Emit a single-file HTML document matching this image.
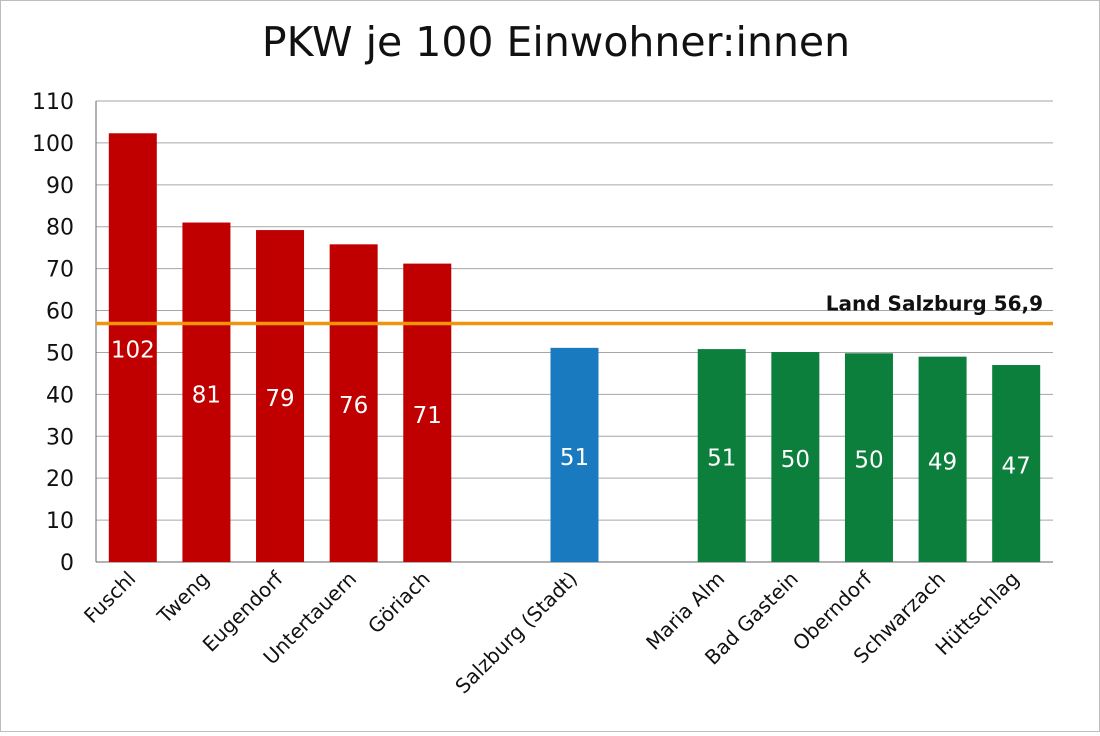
<!DOCTYPE html>
<html><head><meta charset="utf-8"><style>
body{margin:0;background:#fff;}
#wrap{position:relative;width:1098px;height:730px;border:1px solid #bdbdbd;background:#fff;}
text{font-family:"DejaVu Sans","Liberation Sans",sans-serif;}
</style></head><body>
<div id="wrap">
<svg id="chart" width="1098" height="730">
<text x="555" y="55" text-anchor="middle" font-size="41" fill="#111">PKW je 100 Einwohner:innen</text>
</svg>
</div>
<script>
const categories=["Fuschl","Tweng","Eugendorf","Untertauern","Göriach","","Salzburg (Stadt)","","Maria Alm","Bad Gastein","Oberndorf","Schwarzach","Hüttschlag"];
const values=[102.3,81,79.2,75.8,71.2,null,51.1,null,50.8,50.1,49.8,49,47];
const labels=["102","81","79","76","71","","51","","51","50","50","49","47"];
const groups=["r","r","r","r","r","","b","","g","g","g","g","g"];
const yTicks=[0,10,20,30,40,50,60,70,80,90,100,110];
const avgValue=56.9;
const avgLabel="Land Salzburg 56,9";
const colors={r:"#c00000",b:"#1a7abf",g:"#0b7f3b"};
const svg=document.getElementById('chart');
const NS="http://www.w3.org/2000/svg";
const X0=95,X1=1052,Y0=561,Y1=100,YMAX=110;
const step=(X1-X0)/categories.length;
const y=v=>Y0-(v/YMAX)*(Y0-Y1);
const xc=i=>X0+step*(i+0.5);
function mk(t,a,p){const e=document.createElementNS(NS,t);for(const k in a)e.setAttribute(k,a[k]);(p||svg).appendChild(e);return e;}
yTicks.forEach(t=>{
 const l=mk('line',{x1:X0,x2:X1,y1:y(t),y2:y(t),stroke:t===0?'#666':'#a6a6a6','stroke-width':1});
 
 
 const tx=mk('text',{x:X0-22,y:y(t)+8,'text-anchor':'end','font-size':22,fill:'#111'});
 tx.textContent=t;
 
 
});
const ax=mk('line',{x1:X0,x2:X0,y1:Y1,y2:Y0,stroke:'#666'});


values.forEach((v,i)=>{
 if(v==null)return;
 const bw=48;
 const r=mk('rect',{x:xc(i)-bw/2,y:y(v),width:bw,height:Y0-y(v),fill:colors[groups[i]]});
 
 
 const t=mk('text',{x:xc(i),y:(y(v)+Y0)/2+10,'text-anchor':'middle','font-size':23,fill:'#fff'});
 t.textContent=labels[i];
 
 
});
categories.forEach((c,i)=>{
 if(!c)return;
 const cx=xc(i)+4,cy=Y0+18;
 const t=mk('text',{x:cx,y:cy,'text-anchor':'end','font-size':20,fill:'#111',transform:`rotate(-45 ${cx} ${cy})`});
 t.textContent=c;
 
 
});
const al=mk('line',{x1:X0,x2:X1,y1:y(avgValue),y2:y(avgValue),stroke:'#f0940e','stroke-width':3.5});


const at=mk('text',{x:1042,y:y(avgValue)-13,'text-anchor':'end','font-size':20,'font-weight':'bold',fill:'#111'});
at.textContent=avgLabel;


</script>
</body></html>
